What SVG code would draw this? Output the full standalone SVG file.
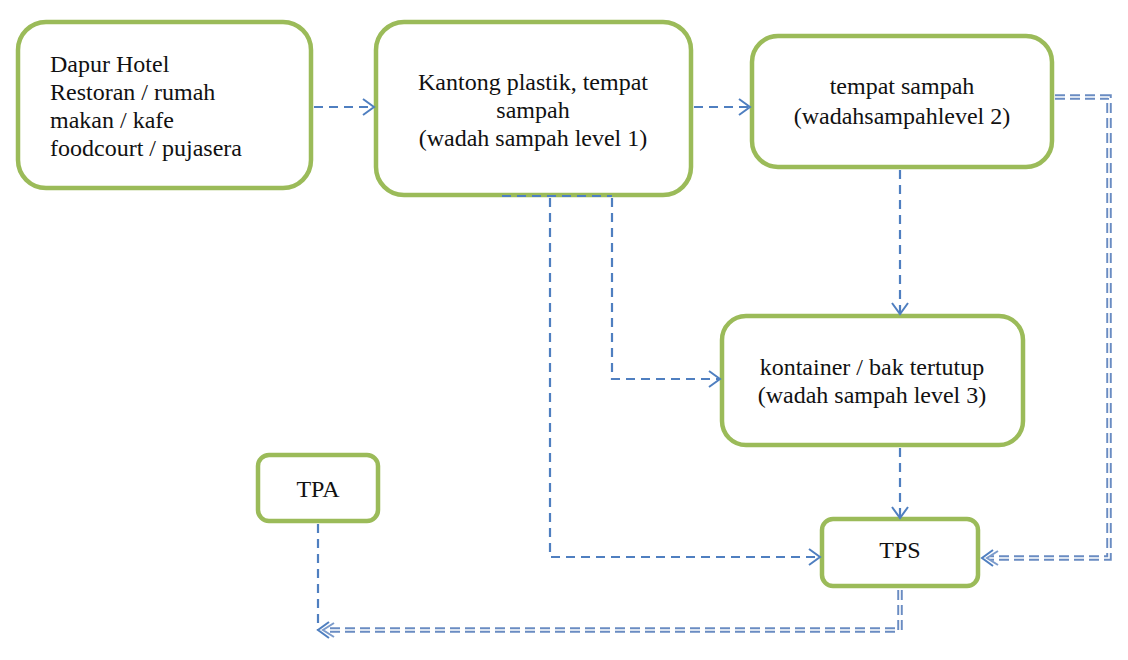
<svg xmlns="http://www.w3.org/2000/svg" width="1128" height="660" viewBox="0 0 1128 660">
<style>
.box{fill:#ffffff;stroke:#9bbb59;stroke-width:4.5}
.t{font-family:'Liberation Serif','DejaVu Serif',serif;font-size:24px;fill:#111}
.c{text-anchor:middle}
.dash{fill:none;stroke:#4f7fc0;stroke-width:2.2;stroke-dasharray:9,6}
.dbl{fill:none;stroke:#6a8cc2;stroke-width:5.5;stroke-dasharray:10,5}
.dblw{fill:none;stroke:#ffffff;stroke-width:1.6;stroke-dasharray:10,5}
</style>
<defs>
<marker id="arr" markerUnits="userSpaceOnUse" viewBox="0 0 14 18" refX="12" refY="9" markerWidth="14" markerHeight="18" orient="auto">
<path d="M1,1 L12,9 L1,17" fill="none" stroke="#4f7fc0" stroke-width="2"/>
</marker>
<marker id="arr2" markerUnits="userSpaceOnUse" viewBox="-6 0 20 18" refX="12" refY="9" markerWidth="20" markerHeight="18" orient="auto">
<path d="M1,1 L12,9 L1,17" fill="none" stroke="#4f7fc0" stroke-width="2"/>
<path d="M-4,2 L7,9 L-4,16" fill="none" stroke="#7b9bcb" stroke-width="2"/>
</marker>
</defs>
<g id="node-dapur">
<rect class="box" x="18" y="22" width="293" height="166" rx="28"/>
<text class="t" font-family="Liberation Serif, serif" x="50" y="72">Dapur Hotel</text>
<text class="t" font-family="Liberation Serif, serif" x="50" y="100">Restoran / rumah</text>
<text class="t" font-family="Liberation Serif, serif" x="50" y="128">makan / kafe</text>
<text class="t" font-family="Liberation Serif, serif" x="50" y="156">foodcourt / pujasera</text>
</g>
<g id="node-level1">
<rect class="box" x="376" y="22" width="315" height="173" rx="28"/>
<text class="t c" x="533" y="90">Kantong plastik, tempat</text>
<text class="t c" x="533" y="118">sampah</text>
<text class="t c" x="533" y="146">(wadah sampah level 1)</text>
</g>
<g id="node-level2">
<rect class="box" x="752" y="36" width="300" height="131" rx="26"/>
<text class="t c" x="902" y="94">tempat sampah</text>
<text class="t c" x="902" y="124">(wadahsampahlevel 2)</text>
</g>
<g id="node-level3">
<rect class="box" x="722" y="316" width="301" height="129" rx="24"/>
<text class="t c" x="872" y="375">kontainer / bak tertutup</text>
<text class="t c" x="872" y="403">(wadah sampah level 3)</text>
</g>
<g id="node-tpa">
<rect class="box" x="258" y="455" width="120" height="66" rx="11"/>
<text class="t c" x="318" y="497">TPA</text>
</g>
<g id="node-tps">
<rect class="box" x="822" y="519" width="156" height="67" rx="11"/>
<text class="t c" x="900" y="558">TPS</text>
</g>
<g id="connectors">
<path class="dash" d="M314,107 H374" marker-end="url(#arr)"/>
<path class="dash" d="M694,107 H750" marker-end="url(#arr)"/>
<path class="dash" d="M900,170 V314" marker-end="url(#arr)"/>
<path class="dash" d="M612,198 V379 H720" marker-end="url(#arr)"/>
<path class="dash" d="M550,198 V557 H820" marker-end="url(#arr)"/>
<path class="dash" d="M900,448 V518" marker-end="url(#arr)"/>
<path class="dash" d="M502,196 H612"/>
<path class="dbl" d="M1055,97 H1109 V558 H990"/>
<path class="dblw" d="M1055,97 H1109 V558 H990"/>
<path d="M990,558 H982" fill="none" stroke="none" marker-end="url(#arr2)"/>
<path class="dbl" d="M900,590 V630 H326"/>
<path class="dblw" d="M900,590 V630 H326"/>
<path class="dash" d="M318,524 V630"/>
<path d="M326,630 H318" fill="none" stroke="none" marker-end="url(#arr2)"/>
</g>
</svg>
